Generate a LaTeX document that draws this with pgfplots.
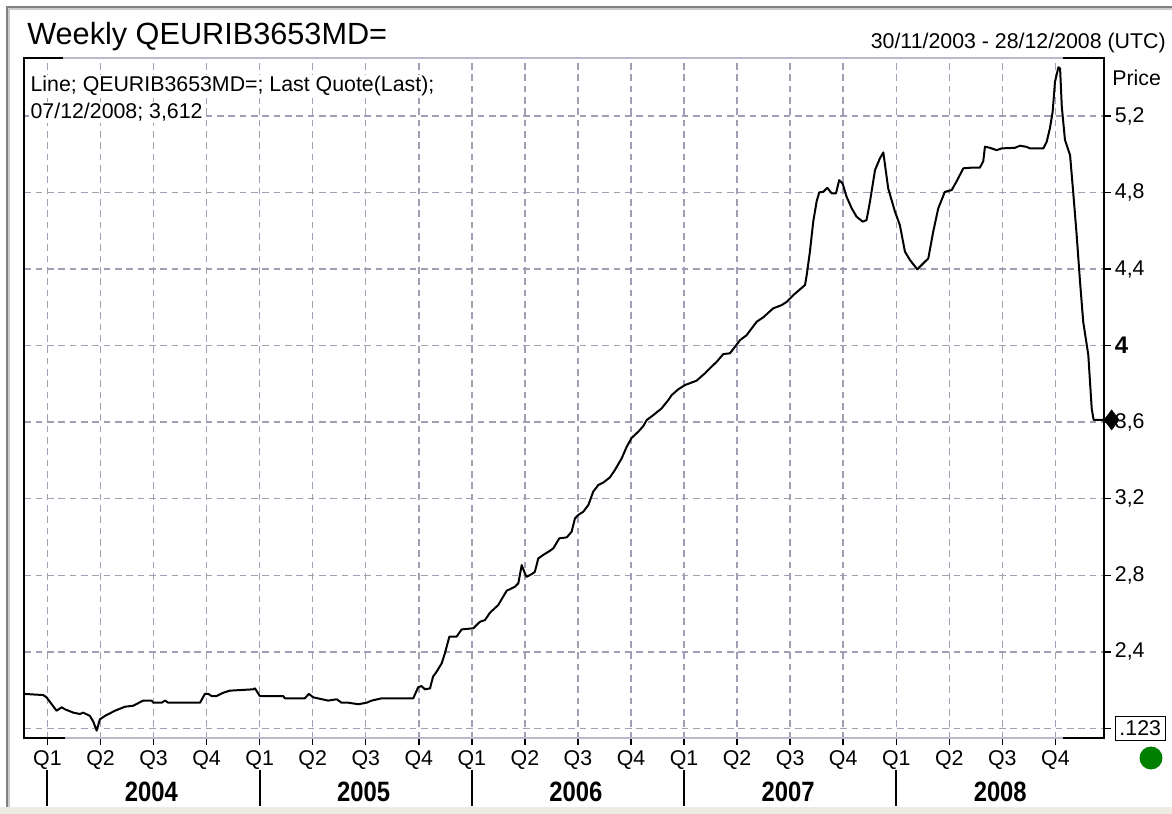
\documentclass[border=0pt]{standalone}
\usepackage{fontspec}
\setmainfont{Liberation Sans}
\newfontfamily\yearfont[FakeStretch=0.85]{Liberation Sans}
\usepackage{pgfplots}
\usepackage{pgfplotstable}
\pgfplotsset{compat=1.18}
\definecolor{gridc}{RGB}{160,160,180}
\definecolor{framec}{RGB}{185,185,205}
\definecolor{dotgreen}{RGB}{0,128,0}
\definecolor{beige}{RGB}{238,235,226}
\newcommand{\PX}[2]{({(#1)*0.75pt},{(814-(#2))*0.75pt})}

\pgfplotstableread{
x y
2003.891 2.180
2003.980 2.174
2003.996 2.162
2004.043 2.092
2004.067 2.110
2004.082 2.100
2004.122 2.082
2004.153 2.075
2004.169 2.082
2004.200 2.065
2004.216 2.035
2004.232 1.988
2004.247 2.047
2004.271 2.065
2004.318 2.092
2004.365 2.113
2004.404 2.118
2004.451 2.145
2004.491 2.145
2004.499 2.134
2004.538 2.134
2004.554 2.145
2004.569 2.134
2004.719 2.134
2004.742 2.180
2004.758 2.180
2004.774 2.169
2004.797 2.169
2004.828 2.186
2004.860 2.197
2004.970 2.204
2004.978 2.209
2005.001 2.169
2005.111 2.169
2005.119 2.157
2005.213 2.157
2005.232 2.180
2005.253 2.162
2005.323 2.145
2005.363 2.152
2005.386 2.134
2005.418 2.134
2005.465 2.126
2005.504 2.134
2005.528 2.145
2005.575 2.157
2005.724 2.157
2005.747 2.215
2005.763 2.221
2005.779 2.204
2005.803 2.209
2005.817 2.270
2005.834 2.296
2005.858 2.340
2005.873 2.392
2005.894 2.479
2005.928 2.479
2005.952 2.517
2006.007 2.523
2006.038 2.557
2006.062 2.566
2006.085 2.604
2006.124 2.644
2006.164 2.719
2006.203 2.740
2006.219 2.758
2006.235 2.853
2006.250 2.810
2006.258 2.792
2006.282 2.806
2006.297 2.818
2006.313 2.888
2006.336 2.906
2006.368 2.928
2006.384 2.941
2006.412 2.993
2006.447 2.998
2006.470 3.027
2006.486 3.097
2006.501 3.115
2006.525 3.132
2006.549 3.167
2006.572 3.237
2006.596 3.272
2006.619 3.284
2006.651 3.312
2006.674 3.350
2006.706 3.411
2006.730 3.472
2006.753 3.518
2006.784 3.550
2006.808 3.580
2006.824 3.611
2006.855 3.637
2006.894 3.672
2006.926 3.716
2006.942 3.742
2006.973 3.772
2007.004 3.794
2007.059 3.817
2007.098 3.855
2007.138 3.899
2007.154 3.916
2007.185 3.956
2007.216 3.960
2007.240 3.994
2007.264 4.029
2007.295 4.055
2007.342 4.125
2007.373 4.148
2007.420 4.195
2007.460 4.212
2007.484 4.229
2007.515 4.264
2007.546 4.294
2007.570 4.317
2007.578 4.369
2007.593 4.490
2007.609 4.650
2007.625 4.755
2007.637 4.801
2007.656 4.804
2007.675 4.825
2007.696 4.796
2007.716 4.796
2007.731 4.865
2007.747 4.848
2007.766 4.778
2007.790 4.718
2007.813 4.674
2007.842 4.648
2007.860 4.656
2007.876 4.752
2007.900 4.918
2007.923 4.979
2007.939 5.010
2007.962 4.822
2007.994 4.700
2008.017 4.630
2008.041 4.491
2008.065 4.447
2008.099 4.399
2008.127 4.430
2008.151 4.456
2008.174 4.595
2008.198 4.718
2008.229 4.804
2008.261 4.813
2008.285 4.860
2008.316 4.927
2008.351 4.930
2008.394 4.930
2008.410 4.965
2008.418 5.040
2008.441 5.034
2008.473 5.022
2008.497 5.031
2008.559 5.034
2008.583 5.045
2008.614 5.039
2008.630 5.031
2008.693 5.031
2008.709 5.066
2008.724 5.136
2008.737 5.222
2008.748 5.379
2008.764 5.455
2008.772 5.449
2008.780 5.250
2008.795 5.075
2008.819 4.996
2008.834 4.800
2008.850 4.580
2008.866 4.334
2008.881 4.125
2008.905 3.951
2008.921 3.672
2008.930 3.612
2008.979 3.612
}\pricedata

\begin{document}
\begin{tikzpicture}
\fill[white] (0,0) rectangle (879pt,610.5pt);
\fill[beige] \PX{0}{807} rectangle \PX{1172}{814};
\draw[gray, line width=1.2pt] \PX{7}{807} -- \PX{7}{7} -- \PX{1172}{7};
\draw[gray!40, line width=0.8pt] \PX{9}{807} -- \PX{9}{9} -- \PX{1172}{9};

\begin{axis}[
  at={(18.225pt,56.775pt)}, anchor=south west,
  scale only axis, width=809.775pt, height=510.45pt,
  xmin=2003.891, xmax=2008.979, ymin=1.948, ymax=5.505,
  axis line style={draw=none},
  clip=false,
  xtick={2004,2004.25,2004.5,2004.75,2005,2005.25,2005.5,2005.75,2006,2006.25,2006.5,2006.75,2007,2007.25,2007.5,2007.75,2008,2008.25,2008.5,2008.75},
  xticklabels={Q1,Q2,Q3,Q4,Q1,Q2,Q3,Q4,Q1,Q2,Q3,Q4,Q1,Q2,Q3,Q4,Q1,Q2,Q3,Q4},
  ytick={2,2.4,2.8,3.2,3.6,4,4.4,4.8,5.2},
  yticklabels={{\fbox{.123}},{2,4},{2,8},{3,2},{3,6},{\fontsize{18}{20}\selectfont\bfseries 4},{4,4},{4,8},{5,2}},
  xtick pos=left, ytick pos=right, yticklabel pos=right,
  tick align=outside,
  major tick length=5pt,
  tick style={black, line width=1.1pt},
  grid=major,
  grid style={gridc, dash pattern=on 5pt off 3.5pt, line width=1.1pt},
  ticklabel style={font=\fontsize{16}{18}\selectfont},
  xticklabel style={anchor=north, inner sep=1pt, yshift=-3pt},
  yticklabel style={anchor=west, inner sep=1pt, xshift=2pt},
]
\addplot[black, line width=1.5pt, line join=round, mark=none] table[x=x, y=y] {\pricedata};
\addplot[only marks, mark=diamond*, mark size=7.5pt, black] coordinates {(2009.015,3.612)};

\draw[framec, line width=1.3pt] (rel axis cs:0,1) -- (rel axis cs:1,1);
\draw[framec, line width=1.3pt] (rel axis cs:0,0) -- (rel axis cs:1,0);
\draw[black, line width=1.6pt] (rel axis cs:0.038,0) -- (rel axis cs:0,0) -- (rel axis cs:0,1) -- (rel axis cs:0.036,1);
\draw[black, line width=1.6pt] (rel axis cs:0.962,1) -- (rel axis cs:1,1) -- (rel axis cs:1,0) -- (rel axis cs:0.962,0);

\pgfplotsinvokeforeach{2004,2005,2006,2007,2008}{
  \draw[black, line width=1.5pt] ([yshift=-24pt]axis cs:#1,1.948) -- ([yshift=-50.8pt]axis cs:#1,1.948);
  \node[font={\yearfont\bfseries\fontsize{21}{24}\selectfont}] at ([yshift=-40.3pt]axis cs:#1.49,1.948) {#1};
}
\end{axis}

\node[anchor=base west, font=\fontsize{23}{26}\selectfont, inner sep=0pt] at \PX{27}{45} {Weekly QEURIB3653MD=};
\node[anchor=base east, font=\fontsize{16}{18}\selectfont, inner sep=0pt] at \PX{1166}{49} {30/11/2003 - 28/12/2008 (UTC)};
\node[anchor=base west, font=\fontsize{16}{18}\selectfont, fill=white, inner sep=1pt] at \PX{29}{92} {Line; QEURIB3653MD=; Last Quote(Last);};
\node[anchor=base west, font=\fontsize{16}{18}\selectfont, fill=white, inner sep=1pt] at \PX{29}{119} {07/12/2008; 3,612};
\node[anchor=base west, font=\fontsize{16}{18}\selectfont, inner sep=0pt] at \PX{1112}{86} {Price};
\fill[dotgreen] \PX{1151}{758} circle (8.6pt);

\pgfresetboundingbox
\useasboundingbox (0,0) rectangle (879pt,610.5pt);
\end{tikzpicture}
\end{document}
